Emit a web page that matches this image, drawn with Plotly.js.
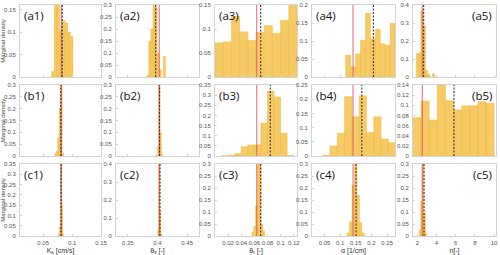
<!DOCTYPE html>
<html><head><meta charset="utf-8">
<script src="https://cdn.plot.ly/plotly-3.0.1.min.js"></script>
<style>html,body{margin:0;padding:0;background:#fff}#chart{width:500px;height:255px}</style>
</head><body><div id="chart"></div>
<script>
// ---- labels ----
const paramTitles = ['K<sub>s</sub> [cm/s]', 'θ<sub>s</sub> [-]', 'θ<sub>r</sub> [-]', 'α [1/cm]', 'n[-]'];
const rowLetters = ['a', 'b', 'c'];
const yTitle = 'Marginal density';

// ---- reference values (red solid) and posterior means (black dotted) ----
const trueValues = [0.0815, 0.403, 0.0636, 0.141, 2.52];
const meanRowA = [0.083, 0.3969, 0.0697, 0.206, 2.66];
const meanRowB = [0.0805, 0.4035, 0.0843, 0.169, 5.82];
const meanRowC = [0.0809, 0.4042, 0.0696, 0.1506, 2.70];

// ---- x tick values per parameter ----
const xTicks = [
  [0.05, 0.1, 0.15],
  [0.35, 0.4, 0.45],
  [0.02, 0.04, 0.06, 0.08, 0.1, 0.12],
  [0.05, 0.1, 0.15, 0.2, 0.25],
  [2, 4, 6, 8, 10]
];

// ---- histogram bins (centres) and heights ----
const a1Width = 0.0046;
const a1Bins = [0.0670, 0.0716, 0.0762, 0.0808, 0.0854, 0.0900, 0.0946, 0.0992];
const a1Dens = [0.012, 0.24, 0.21, 0.104, 0.125, 0.120, 0.100, 0.090];

const a2Width = 0.0035;
const a2Bins = [0.3836, 0.3871, 0.3906, 0.3941, 0.3976, 0.4011, 0.4046, 0.4116];
const a2Dens = [0.007, 0.150, 0.200, 0.300, 0.290, 0.100, 0.030, 0.085];

const a3Width = 0.0125;
const a3Bins = [0.00625, 0.01875, 0.03125, 0.04375, 0.05625, 0.06875, 0.08125, 0.09375, 0.10625, 0.11875];
const a3Dens = [0.071, 0.073, 0.126, 0.094, 0.076, 0.093, 0.107, 0.091, 0.118, 0.149];

const a4Width = 0.01575;
const a4Bins = [0.1256, 0.1413, 0.1571, 0.1728, 0.1886, 0.2043, 0.2201, 0.2358, 0.2516, 0.2673];
const a4Dens = [0.061, 0.028, 0.064, 0.102, 0.177, 0.106, 0.132, 0.092, 0.088, 0.149];

const a5Width = 0.24;
const a5Bins = [2.01, 2.25, 2.49, 2.73, 2.97, 3.21, 3.69];
const a5Dens = [0.130, 0.133, 0.367, 0.284, 0.037, 0.013, 0.018];

const b1Width = 0.0025;
const b1Bins = [0.0715, 0.0740, 0.0765, 0.0790, 0.0815, 0.0840];
const b1Dens = [0.010, 0.020, 0.077, 0.200, 0.680, 0.010];

const b2Width = 0.0022;
const b2Bins = [0.3986, 0.4008, 0.4030, 0.4052, 0.4074];
const b2Dens = [0.005, 0.040, 0.850, 0.100, 0.007];

const b3Width = 0.01;
const b3Bins = [0.015, 0.025, 0.035, 0.045, 0.055, 0.065, 0.075, 0.085, 0.095, 0.105, 0.115];
const b3Dens = [0.001, 0.003, 0.012, 0.046, 0.054, 0.055, 0.161, 0.320, 0.290, 0.112, 0.002];

const b4Width = 0.0233;
const b4Bins = [0.0557, 0.0790, 0.1023, 0.1256, 0.1489, 0.1722, 0.1955, 0.2188, 0.2421, 0.2654];
const b4Dens = [0.002, 0.035, 0.080, 0.209, 0.138, 0.212, 0.083, 0.138, 0.060, 0.047];

const b5Width = 0.845;
const b5Bins = [1.9725, 2.8175, 3.6625, 4.5075, 5.3525, 6.1975, 7.0425, 7.8875, 8.7325, 9.5775];
const b5Dens = [0.0756, 0.108, 0.071, 0.140, 0.109, 0.091, 0.099, 0.099, 0.107, 0.104];

const c1Width = 0.0017;
const c1Bins = [0.0775, 0.0792, 0.0809, 0.0826, 0.0843];
const c1Dens = [0.010, 0.045, 0.780, 0.150, 0.010];

const c2Width = 0.0017;
const c2Bins = [0.4012, 0.4029, 0.4046, 0.4063];
const c2Dens = [0.030, 0.820, 0.140, 0.010];

const c3Width = 0.0027;
const c3Bins = [0.0577, 0.0605, 0.0633, 0.0660, 0.0689, 0.0716, 0.0744];
const c3Dens = [0.015, 0.040, 0.125, 0.400, 0.350, 0.050, 0.020];

const c4Width = 0.0078;
const c4Bins = [0.1260, 0.1338, 0.1416, 0.1494, 0.1572, 0.1650, 0.1728];
const c4Dens = [0.012, 0.059, 0.210, 0.480, 0.170, 0.055, 0.012];

const c5Width = 0.16;
const c5Bins = [2.28, 2.44, 2.60, 2.76, 2.92];
const c5Dens = [0.026, 0.145, 0.720, 0.096, 0.011];

// ---- axis ranges ----
const xRanges = [[0.01, 0.15], [0.33, 0.47], [0, 0.125], [0.01, 0.275], [1.55, 10.2]];
const yRanges = [
  [[0, 0.16], [0, 0.3], [0, 0.15], [0, 0.2], [0, 0.4]],
  [[0, 0.3], [0, 0.3], [0, 0.35], [0, 0.25], [0, 0.14]],
  [[0, 0.35], [0, 0.4], [0, 0.3], [0, 0.3], [0, 0.3]]
];
const yDticks = [
  [0.05, 0.05, 0.05, 0.05, 0.1],
  [0.05, 0.05, 0.05, 0.05, 0.02],
  [0.05, 0.1, 0.05, 0.05, 0.05]
];

const panels = [
  [[a1Bins, a1Dens, a1Width], [a2Bins, a2Dens, a2Width], [a3Bins, a3Dens, a3Width], [a4Bins, a4Dens, a4Width], [a5Bins, a5Dens, a5Width]],
  [[b1Bins, b1Dens, b1Width], [b2Bins, b2Dens, b2Width], [b3Bins, b3Dens, b3Width], [b4Bins, b4Dens, b4Width], [b5Bins, b5Dens, b5Width]],
  [[c1Bins, c1Dens, c1Width], [c2Bins, c2Dens, c2Width], [c3Bins, c3Dens, c3Width], [c4Bins, c4Dens, c4Width], [c5Bins, c5Dens, c5Width]]
];
const means = [meanRowA, meanRowB, meanRowC];

// ---- layout geometry (pixels) ----
const W = 500, H = 255;
const colPx = [[20, 101], [116, 199], [215, 297], [312, 395], [413, 496]];
const rowPx = [[5, 77], [85, 156], [164, 236]];

const barColor = 'rgba(245,195,80,0.88)';
const barLine = 'rgba(240,185,60,1)';
const tickFont = {family: 'Liberation Sans, Arial, sans-serif', size: 6, color: '#555'};

const traces = [];
const layout = {
  width: W, height: H,
  margin: {l: 0, r: 0, t: 0, b: 0},
  paper_bgcolor: '#fff', plot_bgcolor: '#fff',
  showlegend: false, barmode: 'overlay', bargap: 0,
  shapes: [], annotations: []
};

for (let r = 0; r < 3; r++) {
  for (let c = 0; c < 5; c++) {
    const i = r * 5 + c + 1;
    const xa = 'x' + i, ya = 'y' + i;
    const [bins, dens, w] = panels[r][c];
    traces.push({
      type: 'bar', x: bins, y: dens, width: w,
      xaxis: xa, yaxis: ya,
      marker: {color: barColor, line: {color: barLine, width: 0.5}},
      hoverinfo: 'skip', showlegend: false
    });
    const xKey = 'xaxis' + i, yKey = 'yaxis' + i;
    layout[xKey] = {
      domain: [colPx[c][0] / W, colPx[c][1] / W],
      anchor: ya, range: xRanges[c],
      showline: true, mirror: true, linecolor: '#d4d4d4', linewidth: 1,
      showgrid: false, zeroline: false,
      ticks: 'inside', ticklen: 2, tickcolor: '#d4d4d4',
      tickvals: xTicks[c], showticklabels: r === 2, tickangle: 0,
      tickfont: tickFont, ticklabelstandoff: 1
    };
    if (r === 2) {
      layout[xKey].title = {text: paramTitles[c], font: {family: 'Liberation Sans, Arial, sans-serif', size: 7, color: '#333'}, standoff: 2};
    }
    layout[yKey] = {
      domain: [1 - rowPx[r][1] / H, 1 - rowPx[r][0] / H],
      anchor: xa, range: yRanges[r][c], dtick: yDticks[r][c], tick0: 0,
      showline: true, mirror: true, linecolor: '#d4d4d4', linewidth: 1,
      showgrid: false, zeroline: false,
      ticks: 'inside', ticklen: 2, tickcolor: '#d4d4d4',
      tickfont: tickFont, ticklabelstandoff: 2
    };
    if (c === 0) {
      layout[yKey].title = {text: yTitle, font: {family: 'Liberation Sans, Arial, sans-serif', size: 6, color: '#444'}, standoff: 3};
    }
    // reference value (red) and posterior mean (dotted)
    layout.shapes.push({
      type: 'line', xref: xa, yref: ya + ' domain',
      x0: trueValues[c], x1: trueValues[c], y0: 0, y1: 1,
      line: {color: 'rgba(222,80,100,0.8)', width: 1.1}, layer: 'above'
    });
    layout.shapes.push({
      type: 'line', xref: xa, yref: ya + ' domain',
      x0: means[r][c], x1: means[r][c], y0: 0, y1: 1,
      line: {color: '#333', width: 1.1, dash: '2px,1.5px'}, layer: 'above'
    });
    // panel label
    const right = c === 4;
    layout.annotations.push({
      text: '(' + rowLetters[r] + (c + 1) + ')',
      xref: xa + ' domain', yref: ya + ' domain',
      x: right ? 0.98 : 0.03, y: 0.99,
      xanchor: right ? 'right' : 'left', yanchor: 'top',
      showarrow: false,
      font: {family: 'Open Sans, Noto Sans, sans-serif', size: 11.5, color: '#111'}
    });
  }
}

Plotly.newPlot('chart', traces, layout, {staticPlot: true, displayModeBar: false});
</script>
</body></html>
